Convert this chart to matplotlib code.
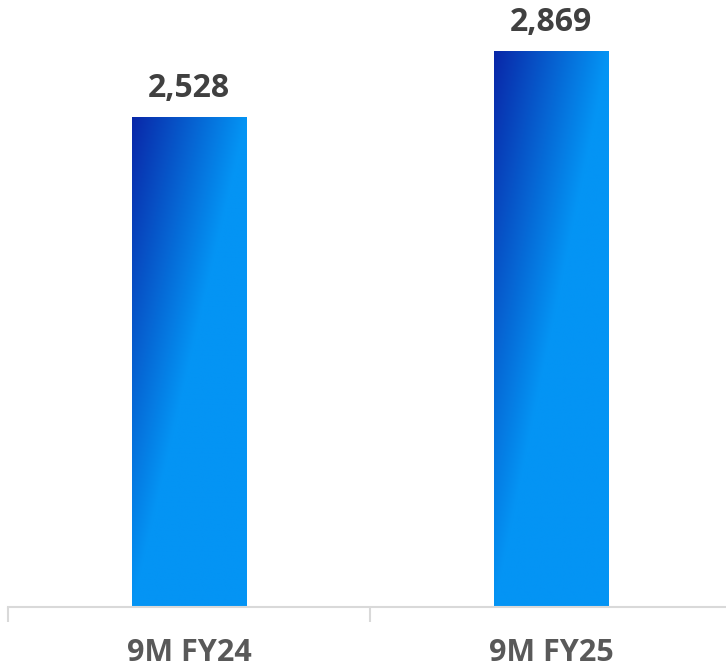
import numpy as np
import matplotlib
matplotlib.use("Agg")
import matplotlib.pyplot as plt
from matplotlib.colors import to_rgb

categories = ["9M FY24", "9M FY25"]
values = [2528, 2869]
value_labels = ["2,528", "2,869"]

W, H, DPI = 726, 671, 100
fig = plt.figure(figsize=(W / DPI, H / DPI), dpi=DPI)
ax = fig.add_axes([8 / W, 64 / H, 724 / W, 581 / H])

dark = np.array(to_rgb("#0927A8"))
light = np.array(to_rgb("#0494F4"))

x = np.arange(len(categories))
bars = ax.bar(x, values, width=0.315, color="none", edgecolor="none", zorder=2)
ax.set_xlim(-0.5, 1.5)
ax.set_ylim(0, 3000)

nu, nv = 120, 400
u = np.linspace(0, 1, nu)[None, :]
v = np.linspace(0, 1, nv)[:, None]
t = np.clip(u + v, 0, 1)[..., None]
img = dark * (1 - t) + light * t

for b, lab in zip(bars, value_labels):
    x0, y0 = b.get_x(), b.get_y()
    w, h = b.get_width(), b.get_height()
    im = ax.imshow(img, extent=[x0, x0 + w, y0, y0 + h], origin="upper",
                   aspect="auto", zorder=2, interpolation="bilinear")
    im.set_clip_path(b)
    ax.annotate(lab, (x0 + w / 2, y0 + h), xytext=(0, 14.5), textcoords="offset points",
                ha="center", va="baseline", fontsize=23, fontweight="bold",
                color="#404040", family=["Open Sans", "DejaVu Sans"])

ax.set_xlim(-0.5, 1.5)
ax.set_ylim(0, 3000)

for s in ["top", "right", "left"]:
    ax.spines[s].set_visible(False)
ax.spines["bottom"].set_color("#d9d9d9")
ax.spines["bottom"].set_linewidth(1.5)
ax.set_yticks([])
ax.set_xticks([-0.5, 0.5, 1.5], minor=False)
ax.set_xticklabels([])
ax.tick_params(axis="x", which="major", length=11, width=1.5, color="#d9d9d9", direction="out")
ax.set_xticks(x, minor=True)
ax.set_xticklabels(categories, minor=True, fontsize=22, fontweight="bold",
                   color="#595959", family=["Open Sans", "DejaVu Sans"])
ax.tick_params(axis="x", which="minor", length=0, pad=22)

fig.savefig("out.png", dpi=DPI)
